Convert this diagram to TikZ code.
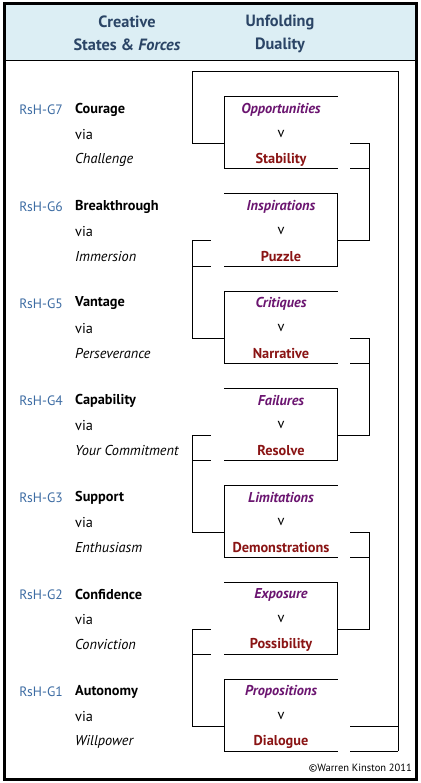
\documentclass[tikz,border=0pt]{standalone}
\usepackage{fontspec}
\setmainfont{PT Sans}
\definecolor{hdrbg}{HTML}{DCEEF4}
\definecolor{hdrtx}{HTML}{2B4566}
\definecolor{lblblue}{HTML}{3D6CA3}
\definecolor{dpurple}{HTML}{6B1570}
\definecolor{dred}{HTML}{8A1414}
\tikzset{
  lbl/.style={anchor=center,text=lblblue,font=\fontsize{13.6}{15}\selectfont,inner sep=0pt},
  state/.style={anchor=west,font=\fontsize{14.3}{16}\selectfont\bfseries,inner sep=0pt},
  via/.style={anchor=west,font=\fontsize{14.3}{16}\selectfont,inner sep=0pt},
  force/.style={anchor=west,font=\fontsize{14.3}{16}\selectfont\itshape,inner sep=0pt},
  dtop/.style={anchor=center,text=dpurple,font=\fontsize{14.3}{16}\selectfont\bfseries\itshape,inner sep=0pt},
  dv/.style={anchor=center,font=\fontsize{14.3}{16}\selectfont,inner sep=0pt},
  dbot/.style={anchor=center,text=dred,font=\fontsize{14.3}{16}\selectfont\bfseries,inner sep=0pt},
  hdr/.style={anchor=center,text=hdrtx,font=\fontsize{16.3}{18}\selectfont\bfseries,inner sep=0pt},
  ln/.style={line width=1pt,black}
}
\begin{document}
\begin{tikzpicture}[x=1pt,y=-1pt]
\useasboundingbox (0,0) rectangle (420,783);
\fill[white] (0,0) rectangle (420,783);
\fill[hdrbg] (4,4) rectangle (416,61);
\draw[ln] (4,61) -- (416,61);
\draw[line width=3pt] (4,4) rectangle (416,779);
% header
\node[hdr] (h1a) at (127,22) {Creative};
\node[hdr] (h1b) at (127,45) {States \& \textit{Forces}};
\node[hdr] (h2a) at (280,22) {Unfolding};
\node[hdr] (h2b) at (280,45) {Duality};
% rows
\foreach \k/\g/\st/\fo/\up/\dn in {
 0/7/Courage/Challenge/Opportunities/Stability,
 1/6/Breakthrough/Immersion/Inspirations/Puzzle,
 2/5/Vantage/Perseverance/Critiques/Narrative,
 3/4/Capability/Your Commitment/Failures/Resolve,
 4/3/Support/Enthusiasm/Limitations/Demonstrations,
 5/2/Confidence/Conviction/Exposure/Possibility,
 6/1/Autonomy/Willpower/Propositions/Dialogue}{
  \pgfmathsetmacro{\T}{97+97*\k}
  \node[lbl] (g\g) at (41,\T+12.5) {RsH-G\g};
  \node[state] (s\g) at (75,\T+12.5) {\st};
  \node[via] (v\g) at (75,\T+37.5) {via};
  \node[force] (f\g) at (75,\T+62.5) {\fo};
  \node[dtop] (u\g) at (281,\T+12.5) {\up};
  \node[dv] (x\g) at (281,\T+37) {v};
  \node[dbot] (d\g) at (281,\T+62.5) {\dn};
  \coordinate (tl\g) at (224,\T);
  \coordinate (tr\g) at (338,\T);
  \coordinate (bl\g) at (224,\T+72);
  \coordinate (br\g) at (338,\T+72);
  \coordinate (ml\g) at (224,\T+47);
  \coordinate (mr\g) at (337,\T+47);
  \draw[ln] (tl\g) -- (tr\g);
  \draw[ln] (bl\g) -- (br\g);
}
% frame
\coordinate (fa) at (192,144);
\coordinate (fb) at (192,72);
\coordinate (fc) at (398,72);
\coordinate (fd) at (398,751);
\draw[ln] (fa) -- (fb) -- (fc) -- (fd);
% boxes with left side (7,5,3,1)
\foreach \g in {7,5,3,1}{
  \draw[ln] (tl\g) -- (bl\g);
  \draw[ln] (ml\g) -- ++(-32,0);
}
% boxes with right side (6,4,2)
\foreach \g in {6,4,2}{
  \draw[ln] (tr\g) ++(-1,0) -- ([xshift=-1pt]br\g);
  \draw[ln] ([xshift=-32pt]ml\g) -- ++(19,0);
  \draw[ln] ([xshift=-32pt]bl\g) -- ++(19,0);
}
% right brackets 7->6, 5->4, 3->2
\foreach \a/\b in {7/6,5/4,3/2}{
  \draw[ln] ([xshift=13pt]mr\a) -- ([xshift=32pt]mr\a) |- (mr\b);
  \draw[ln] ([xshift=12pt]br\a) -- ([xshift=31pt]br\a);
}
% left brackets 6->5, 4->3, 2->1
\foreach \a/\b in {6/5,4/3,2/1}{
  \draw[ln] ([xshift=-32pt]ml\a) |- ([xshift=-32pt]ml\b);
}
% bottom right extensions for G1
\draw[ln] ([xshift=13pt]mr1) -- (398,726);
\draw[ln] ([xshift=12pt]br1) -- (fd);
\node[anchor=east,inner sep=0pt,font=\fontsize{10.5}{12}\selectfont] (copy) at (412,768) {©Warren Kinston 2011};
\end{tikzpicture}
\end{document}
